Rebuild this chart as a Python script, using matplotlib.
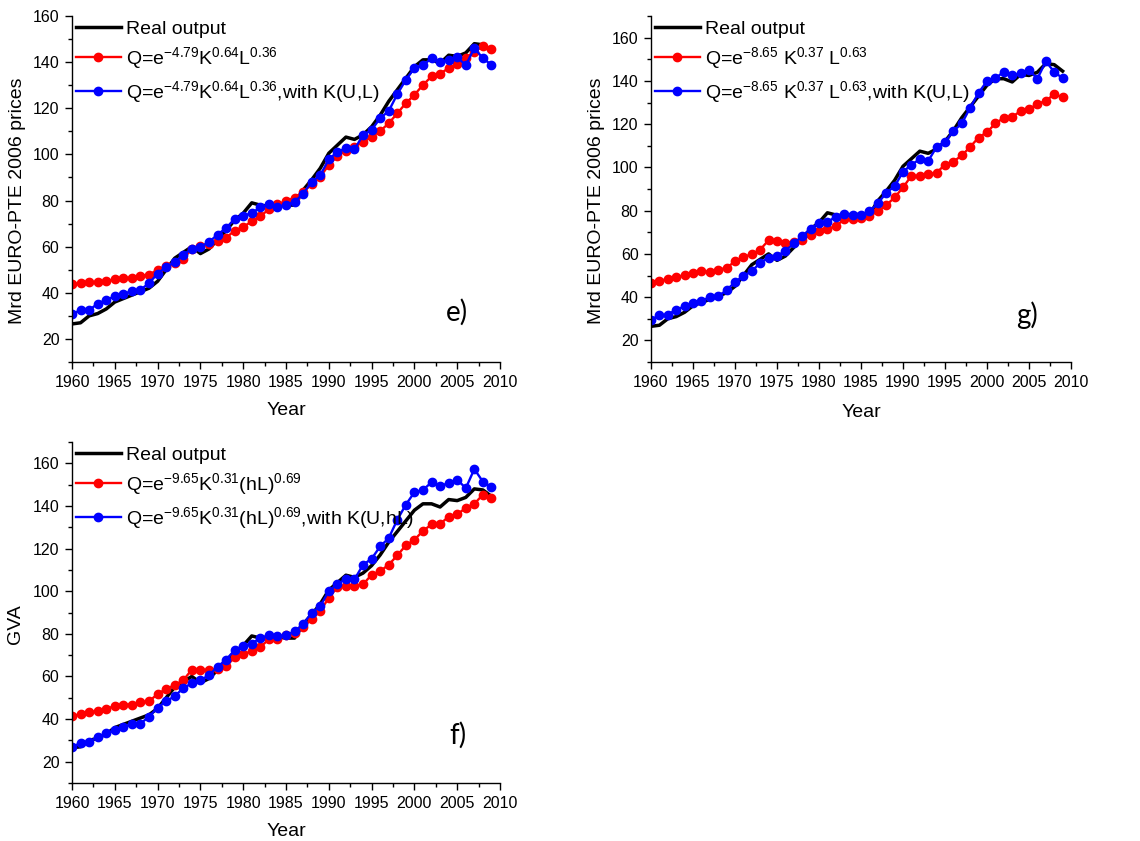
import matplotlib
matplotlib.use("Agg")
import matplotlib.pyplot as plt
from matplotlib.ticker import MultipleLocator, AutoMinorLocator

plt.rcParams['font.family'] = ['Liberation Sans', 'DejaVu Sans']
plt.rcParams['mathtext.default'] = 'regular'

years = list(range(1960, 2010))

# real output (same series in all three panels)
real_output = [26.5, 27, 30, 31, 33, 36, 37.5, 39, 40.5, 42,
               45, 50, 55, 57.5, 60, 57, 59, 63, 67, 71.5,
               74.5, 79, 78, 77.5, 78.5, 78, 78, 84.5, 89, 94,
               100.5, 104, 107.5, 106.5, 108.5, 112, 117, 123, 128, 133,
               138, 141, 141, 139.5, 143, 142.5, 144, 148, 147.5, 144.5]

# panel e)
e_model = [43.6, 44.2, 44.6, 44.6, 45, 45.8, 46.5, 46.5, 47.4, 47.8,
           50, 51.6, 53, 54.8, 59, 60.3, 61.3, 62.5, 63.8, 67,
           68.5, 71, 73.2, 76.2, 78.4, 79.7, 81.3, 83.8, 87, 90.3,
           95.4, 99.3, 101.6, 103.3, 105.5, 107.7, 110.1, 113.5, 117.8, 122.2,
           125.8, 130.1, 133.8, 135, 137.4, 139.1, 141.7, 144.6, 146.8, 145.8]
e_model_k = [30.6, 32.6, 32.6, 35.2, 37, 38.4, 39.6, 40.7, 41.3, 44.2,
             48.3, 51.2, 53.3, 56.5, 59.1, 59.9, 62, 65.2, 68.1, 72,
             73.3, 74.6, 77, 78.4, 77.2, 78, 79.4, 83, 88.1, 91,
             97.8, 101.2, 102.6, 102.2, 108.4, 110.6, 115.7, 118.8, 126.1, 132.3,
             137.4, 138.6, 141.7, 140, 141, 142.2, 138.6, 146.1, 141.7, 138.8]

# panel g)
g_model = [46.5, 47.3, 48.6, 49.3, 50.1, 51.2, 52.1, 51.6, 52.7, 53.5,
           56.6, 58.6, 59.8, 62, 66.3, 66, 65.1, 65.5, 66.3, 68.9,
           70.5, 71.4, 72.9, 75.9, 76.2, 76.6, 77.4, 79.7, 82.5, 86.1,
           90.7, 96.1, 96.1, 96.9, 97.5, 101.3, 102.7, 105.5, 109.5, 113.8,
           116.3, 120.3, 122.9, 123.4, 126, 126.8, 129.4, 130.7, 133.9, 132.4]
g_model_k = [29.6, 31.6, 31.9, 34.2, 35.7, 37.3, 38.1, 40.1, 40.4, 43.2,
             47, 49.8, 51.9, 56, 58.1, 59, 61.4, 64.8, 68.2, 71.7,
             74.3, 74.8, 77.1, 78.3, 77.9, 78.2, 79.7, 83.3, 88.2, 91.3,
             97.9, 101.3, 103.7, 103, 109.4, 111.7, 116.8, 120.3, 127.6, 134.5,
             139.9, 141.2, 144.2, 142.5, 143.5, 145, 141, 149, 144.2, 141.2]

# panel f)
f_model = [41.4, 42.3, 43.3, 43.7, 44.8, 46.1, 46.8, 46.8, 47.8, 48.4,
           51.7, 54.2, 55.9, 58.2, 63.2, 63.2, 62.9, 63.7, 64.8, 68.9,
           70.3, 72, 73.8, 77.4, 77.7, 79.3, 80.6, 83.2, 86.8, 90.7,
           96.9, 101.9, 102.4, 102.6, 103.2, 107.7, 109.4, 112.4, 116.8, 121.5,
           124.1, 128.3, 131.3, 131.6, 134.9, 136, 139.1, 141, 145.3, 143.6]
f_model_k = [26.7, 28.9, 29.1, 31.7, 33.3, 34.8, 36.1, 37.6, 37.9, 41.1,
             45.4, 48.4, 50.7, 54.6, 56.7, 58.2, 60.6, 64.5, 67.9, 72.3,
             74.2, 75.4, 78.1, 79.3, 78.8, 79.3, 81.2, 84.5, 89.9, 92.9,
             100.1, 103.2, 105.8, 105.5, 112.4, 115.2, 121, 124.9, 133.5, 140.6,
             146.4, 147.5, 151.1, 149.5, 150.6, 152.4, 148.3, 157.3, 151.4, 148.8]

e_labels = ["Real output",
            r"Q=e$^{-4.79}$K$^{0.64}$L$^{0.36}$",
            r"Q=e$^{-4.79}$K$^{0.64}$L$^{0.36}$,with K(U,L)"]
g_labels = ["Real output",
            r"Q=e$^{-8.65}$ K$^{0.37}$ L$^{0.63}$",
            r"Q=e$^{-8.65}$ K$^{0.37}$ L$^{0.63}$,with K(U,L)"]
f_labels = ["Real output",
            r"Q=e$^{-9.65}$K$^{0.31}$(hL)$^{0.69}$",
            r"Q=e$^{-9.65}$K$^{0.31}$(hL)$^{0.69}$,with K(U,hL)"]

W, H = 1140, 841


def add_panel(fig, box, model, model_k, labels, ylabel, letter, ylim, letter_pos, xlab_y, ylab_x):
    left, top, right, bottom = box
    ax = fig.add_axes([left / W, 1 - bottom / H, (right - left) / W, (bottom - top) / H])
    ax.plot(years, real_output, color='black', lw=2.5, label=labels[0])
    ax.plot(years, model, color='#ff0000', lw=1.7, marker='o', ms=6, label=labels[1])
    ax.plot(years, model_k, color='#0000ff', lw=1.7, marker='o', ms=6, label=labels[2])

    ax.set_xlim(1960, 2010)
    ax.set_ylim(*ylim)
    ax.xaxis.set_major_locator(MultipleLocator(5))
    ax.xaxis.set_minor_locator(AutoMinorLocator(2))
    ax.yaxis.set_major_locator(MultipleLocator(20))
    ax.yaxis.set_minor_locator(AutoMinorLocator(2))
    ax.set_yticks([t for t in range(20, int(ylim[1]) + 1, 20)])
    ax.tick_params(which='major', direction='out', length=5, width=1, labelsize=11.5, pad=4)
    ax.tick_params(which='minor', direction='out', length=3, width=1)
    for side in ['top', 'right']:
        ax.spines[side].set_visible(False)
    for side in ['left', 'bottom']:
        ax.spines[side].set_linewidth(1)

    ax.set_xlabel("Year", fontsize=14)
    ax.xaxis.set_label_coords(0.5, xlab_y)
    ax.set_ylabel(ylabel, fontsize=14)
    ax.yaxis.set_label_coords(ylab_x, 0.465)

    ax.legend(loc='upper left', bbox_to_anchor=(0.0, 1.0), frameon=False,
              fontsize=14, borderaxespad=0, borderpad=0.2, handlelength=2.3,
              handletextpad=0.3, labelspacing=0.4)
    ax.text(letter_pos[0], letter_pos[1], letter, transform=ax.transAxes,
            fontsize=20, family=['Lato', 'DejaVu Sans'], ha='center', va='center')
    return ax


fig = plt.figure(figsize=(W / 100, H / 100), dpi=100)
fig.patch.set_facecolor('white')

add_panel(fig, (72, 16, 500, 362), e_model, e_model_k, e_labels,
          "Mrd EURO-PTE 2006 prices", "e)", (10, 160), (0.9, 0.145), -0.115, -0.107)
add_panel(fig, (651, 16, 1071, 362), g_model, g_model_k, g_labels,
          "Mrd EURO-PTE 2006 prices", "g)", (10, 170), (0.895, 0.136), -0.12, -0.11)
add_panel(fig, (72, 442, 500, 783), f_model, f_model_k, f_labels,
          "GVA", "f)", (10, 170), (0.902, 0.14), -0.118, -0.112)

fig.savefig("out.png", dpi=100)
